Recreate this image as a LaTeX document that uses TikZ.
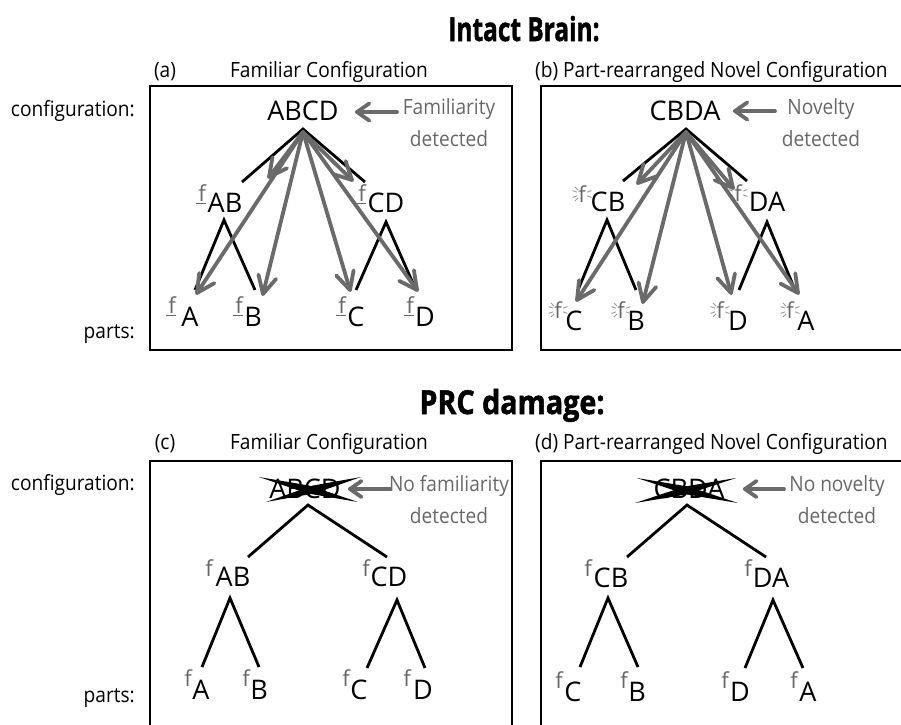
\documentclass[tikz,border=0pt]{standalone}
\usepackage{fontspec}
\setmainfont{Open Sans}
\newfontfamily\condfont[FakeStretch=0.91]{Open Sans}
\newfontfamily\headfont[FakeBold=1.6]{Open Sans}
\usetikzlibrary{arrows.meta,calc}
\definecolor{tgray}{HTML}{686868}
\definecolor{agray}{HTML}{6A6A6A}
\definecolor{sgray}{HTML}{9A9A9A}
% gray arrow: shaft plus open V head
\newcommand\grayarrow[4]{% src, tip, arm length, half angle
  \draw[gline] (#1) -- (#2);
  \draw[gline] ($(#2)!#3!#4:(#1)$) -- (#2) -- ($(#2)!#3!-#4:(#1)$);
}
\begin{document}
\begin{tikzpicture}[x=1pt,y=-1pt,
  panel/.style={draw=black,line width=2pt},
  lbl/.style={font=\condfont\fontsize{21}{25}\selectfont, inner sep=0pt},
  head/.style={font=\headfont\bfseries\fontsize{33}{38}\selectfont, inner sep=0pt},
  note/.style={font=\condfont\fontsize{21}{32}\selectfont, text=tgray, align=center, inner sep=0pt},
  big/.style={font=\fontsize{27}{30}\selectfont, inner sep=0pt},
  sub/.style={font=\fontsize{22}{22}\selectfont, text=tgray, inner sep=0pt},
  uline/.style={tgray, line width=1.4pt},
  tree/.style={line width=2.8pt, black},
  gline/.style={line width=3.8pt, agray, line join=round, line cap=round},
  spray/.style={sgray, line width=0.9pt},
  xstroke/.style={fill=black}
]
\useasboundingbox (0,0) rectangle (901,724);
\clip (0,0) rectangle (901,724);

% headings
\node[head, anchor=base] (h1) at (524,41) {\scalebox{0.74}[1]{Intact Brain:}};
\node[head, anchor=base] (h2) at (512,414) {\scalebox{0.87}[1]{PRC damage:}};

% side labels
\node[lbl, anchor=base east] (cfg1) at (135,116) {configuration:};
\node[lbl, anchor=base east] (prt1) at (135,338) {parts:};
\node[lbl, anchor=base east] (cfg2) at (135,490) {configuration:};
\node[lbl, anchor=base east] (prt2) at (135,702) {parts:};

% panel titles
\node[lbl, anchor=base] (ta) at (165,77) {(a)};
\node[lbl, anchor=base] (tat) at (329,77) {Familiar Configuration};
\node[lbl, anchor=base west] (tb) at (535,77) {(b) Part-rearranged Novel Configuration};
\node[lbl, anchor=base] (tc) at (165,449) {(c)};
\node[lbl, anchor=base] (tct) at (329,449) {Familiar Configuration};
\node[lbl, anchor=base west] (td) at (535,449) {(d) Part-rearranged Novel Configuration};

% boxes
\draw[panel] (150,86) rectangle (512,350);
\draw[panel] (541,86) rectangle (905,350);
\draw[panel] (150,461) rectangle (512,730);
\draw[panel] (541,461) rectangle (905,730);

% ================= panel (a)
\node[big] (a-top) at (303,111) {ABCD};
\node[note] (a-note) at (449,123) {Familiarity\\detected};
\coordinate (a-hs) at (397,112);
\coordinate (a-he) at (357,112);
\grayarrow{a-hs}{a-he}{15pt}{35}

\node[big] (a-ab) at (225,203) {AB};
\node[big] (a-cd) at (386,203) {CD};
\node[big] (a-a) at (190,317) {A};
\node[big] (a-b) at (253,317) {B};
\node[big] (a-c) at (356,317) {C};
\node[big] (a-d) at (425,317) {D};
\foreach \n/\x/\y in {fab/202/193, fcd/362/193, fa/172/305, fb/239/305, fc/342/305, fd/410/305}{
  \node[sub] (a-\n) at (\x,\y) {f};
  \draw[uline] ([xshift=-2pt,yshift=-2pt]a-\n.south west) -- ([yshift=-2pt]a-\n.south east);
}
\coordinate (a-apex) at (303,129);
\coordinate (a-l1) at (242,182);
\coordinate (a-r1) at (365,182);
\coordinate (a-abx) at (224,220);
\coordinate (a-abl) at (195,290);
\coordinate (a-abr) at (255,290);
\coordinate (a-cdx) at (386,222);
\coordinate (a-cdl) at (356,290);
\coordinate (a-cdr) at (416,290);
\draw[tree] (a-l1) -- (a-apex) -- (a-r1);
\draw[tree] (a-abl) -- (a-abx) -- (a-abr);
\draw[tree] (a-cdl) -- (a-cdx) -- (a-cdr);
\coordinate (a-src) at (303,132);
\coordinate (a-tab) at (269,177);
\coordinate (a-tcd) at (352,180);
\coordinate (a-ta) at (197,293);
\coordinate (a-tb) at (263,294);
\coordinate (a-tc) at (350,290);
\coordinate (a-td) at (417,290);
\foreach \t in {tab,tcd,ta,tb,tc,td}{\grayarrow{a-src}{a-\t}{20pt}{27}}

% ================= panel (b)
\node[big] (b-top) at (685,111) {CBDA};
\node[note] (b-note) at (821,123) {Novelty\\detected};
\coordinate (b-hs) at (775,111);
\coordinate (b-he) at (735,111);
\grayarrow{b-hs}{b-he}{15pt}{35}

\node[big] (b-cb) at (608,202) {CB};
\node[big] (b-da) at (767,202) {DA};
\node[big] (b-c) at (574,321) {C};
\node[big] (b-b) at (636,321) {B};
\node[big] (b-d) at (738,321) {D};
\node[big] (b-a) at (806,321) {A};
\foreach \n/\x/\y in {fcb/582/194, fda/738/193, fc/558/310, fb/621/310, fd/720/310, fa/790/310}{
  \node[sub] (b-\n) at (\x,\y) {f};
  \foreach \ang in {20,160,200,135,225,340}{
    \draw[spray] ([shift={(\ang:5.5)}]b-\n.center) -- ([shift={(\ang:10)}]b-\n.center);
  }
}
\coordinate (b-apex) at (686,129);
\coordinate (b-l1) at (623,181);
\coordinate (b-r1) at (747,181);
\coordinate (b-cbx) at (607,220);
\coordinate (b-cbl) at (578,290);
\coordinate (b-cbr) at (636,290);
\coordinate (b-dax) at (767,222);
\coordinate (b-dal) at (739,290);
\coordinate (b-dar) at (795,290);
\draw[tree] (b-l1) -- (b-apex) -- (b-r1);
\draw[tree] (b-cbl) -- (b-cbx) -- (b-cbr);
\draw[tree] (b-dal) -- (b-dax) -- (b-dar);
\coordinate (b-src) at (686,132);
\coordinate (b-tcb) at (638,183);
\coordinate (b-tda) at (733,188);
\coordinate (b-tc) at (577,300);
\coordinate (b-tb) at (643,302);
\coordinate (b-td) at (731,293);
\coordinate (b-ta) at (798,293);
\foreach \t in {tcb,tda,tc,tb,td,ta}{\grayarrow{b-src}{b-\t}{20pt}{27}}

% ================= panel (c)
\node[big] (c-top) at (305,489) {ABCD};
\fill[xstroke] (259,477) -- (307.5,493.4) -- (358,502) -- (309.5,485.6) -- cycle;
\fill[xstroke] (266,502) -- (314.5,493.4) -- (361,477) -- (312.5,485.6) -- cycle;
\node[note] (c-note) at (449,500) {No familiarity\\detected};
\coordinate (c-hs) at (390,489);
\coordinate (c-he) at (350,489);
\grayarrow{c-hs}{c-he}{14pt}{35}
\node[big] (c-ab) at (233,577) {AB};
\node[big] (c-cd) at (389,577) {CD};
\node[big] (c-a) at (201,690) {A};
\node[big] (c-b) at (259,690) {B};
\node[big] (c-c) at (359,690) {C};
\node[big] (c-d) at (423,690) {D};
\foreach \n/\x/\y in {fab/209/568, fcd/366/568, fa/188/678, fb/246/678, fc/346/678, fd/407/678}{
  \node[sub] (c-\n) at (\x,\y) {f};
}
\coordinate (c-apex) at (308,505);
\coordinate (c-l1) at (248,557);
\coordinate (c-r1) at (387,557);
\coordinate (c-abx) at (230,598);
\coordinate (c-abl) at (202,667);
\coordinate (c-abr) at (259,667);
\coordinate (c-cdx) at (397,600);
\coordinate (c-cdl) at (367,668);
\coordinate (c-cdr) at (425,668);
\draw[tree] (c-l1) -- (c-apex) -- (c-r1);
\draw[tree] (c-abl) -- (c-abx) -- (c-abr);
\draw[tree] (c-cdl) -- (c-cdx) -- (c-cdr);

% ================= panel (d)
\node[big] (d-top) at (689,489) {CBDA};
\fill[xstroke] (637,478) -- (686.5,494.4) -- (738,503) -- (688.5,486.6) -- cycle;
\fill[xstroke] (635,503) -- (686.5,494.4) -- (736,478) -- (684.5,486.6) -- cycle;
\node[note] (d-note) at (837,500) {No novelty\\detected};
\coordinate (d-hs) at (784,489);
\coordinate (d-he) at (745,489);
\grayarrow{d-hs}{d-he}{14pt}{35}
\node[big] (d-cb) at (611,578) {CB};
\node[big] (d-da) at (771,578) {DA};
\node[big] (d-c) at (573,692) {C};
\node[big] (d-b) at (637,692) {B};
\node[big] (d-d) at (740,692) {D};
\node[big] (d-a) at (808,692) {A};
\foreach \n/\x/\y in {fcb/588/568, fda/748/568, fc/559/680, fb/624/680, fd/725/680, fa/794/680}{
  \node[sub] (d-\n) at (\x,\y) {f};
}
\coordinate (d-apex) at (687,505);
\coordinate (d-l1) at (627,557);
\coordinate (d-r1) at (766,557);
\coordinate (d-cbx) at (608,598);
\coordinate (d-cbl) at (580,667);
\coordinate (d-cbr) at (638,667);
\coordinate (d-dax) at (773,600);
\coordinate (d-dal) at (745,668);
\coordinate (d-dar) at (803,668);
\draw[tree] (d-l1) -- (d-apex) -- (d-r1);
\draw[tree] (d-cbl) -- (d-cbx) -- (d-cbr);
\draw[tree] (d-dal) -- (d-dax) -- (d-dar);
\end{tikzpicture}
\end{document}
